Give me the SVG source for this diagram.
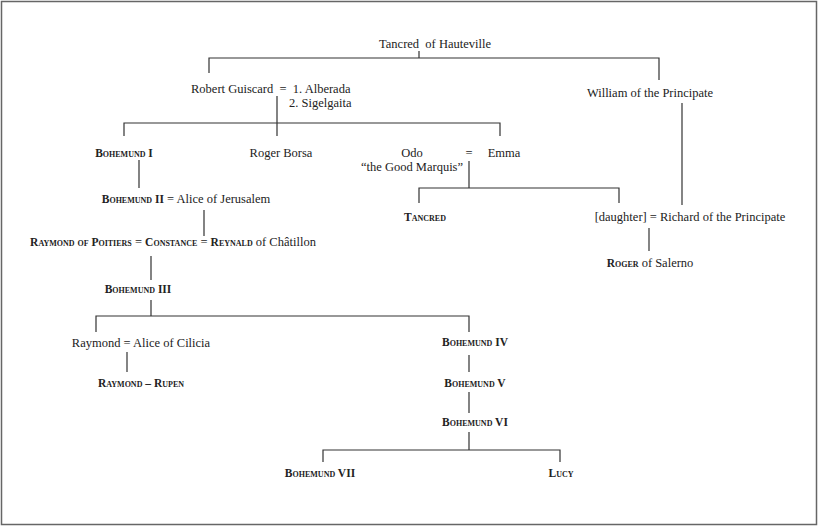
<svg xmlns="http://www.w3.org/2000/svg" width="819" height="527" viewBox="0 0 819 527">
<style>
text{font-family:"Liberation Serif","Times New Roman",serif;font-size:12.5px;fill:#222;white-space:pre}
.sc{font-variant:small-caps;font-weight:bold;font-size:11.5px}
.m{text-anchor:middle}
#connectors path{fill:none;stroke:#333;stroke-width:1.2}
</style>
<rect x="1.5" y="1.5" width="815" height="523" fill="#fff" stroke="#666" stroke-width="1.5"/>
<g id="connectors">
<path d="M419 51V58M209 73V58H659V80"/>
<path d="M277 96V136M124 136V123H500V136"/>
<path d="M682 103V205"/>
<path d="M469 161V188M419 203V188H619V203"/>
<path d="M649 228V251"/>
<path d="M139 160V188M204 210V236M151 256V280"/>
<path d="M151 300V316M96 332V316H469V332"/>
<path d="M127 352V372"/>
<path d="M469 355V372M469 392V413M469 432V450M323 462V450H560V462"/>
</g>
<g id="tancred-hauteville"><text x="435" y="48" class="m">Tancred  of Hauteville</text></g>
<g id="robert"><text x="191" y="93">Robert Guiscard  =  1. Alberada</text><text x="289" y="107">2. Sigelgaita</text></g>
<g id="william"><text x="650" y="97" class="m">William of the Principate</text></g>
<g id="bohemund1"><text x="124" y="157" class="m sc">Bohemund I</text></g>
<g id="roger-borsa"><text x="281" y="157" class="m">Roger Borsa</text></g>
<g id="odo"><text x="412" y="157" class="m">Odo</text><text x="412" y="171" class="m">“the Good Marquis”</text><text x="469" y="157" class="m">=</text><text x="504" y="157" class="m">Emma</text></g>
<g id="tancred"><text x="425" y="221" class="m sc">Tancred</text></g>
<g id="daughter"><text x="690" y="221" class="m">[daughter] = Richard of the Principate</text></g>
<g id="roger-salerno"><text x="650" y="267" class="m"><tspan class="sc">Roger</tspan> of Salerno</text></g>
<g id="bohemund2"><text x="186" y="203" class="m"><tspan class="sc">Bohemund II</tspan> = Alice of Jerusalem</text></g>
<g id="constance"><text x="173" y="246" class="m"><tspan class="sc">Raymond of Poitiers</tspan> = <tspan class="sc">Constance</tspan> = <tspan class="sc">Reynald</tspan> of Châtillon</text></g>
<g id="bohemund3"><text x="138" y="293" class="m sc">Bohemund III</text></g>
<g id="raymond"><text x="141" y="347" class="m">Raymond = Alice of Cilicia</text></g>
<g id="raymond-rupen"><text x="141" y="387" class="m sc">Raymond – Rupen</text></g>
<g id="bohemund4"><text x="475" y="346" class="m sc">Bohemund IV</text></g>
<g id="bohemund5"><text x="475" y="387" class="m sc">Bohemund V</text></g>
<g id="bohemund6"><text x="475" y="426" class="m sc">Bohemund VI</text></g>
<g id="bohemund7"><text x="320" y="477" class="m sc">Bohemund VII</text></g>
<g id="lucy"><text x="561" y="477" class="m sc">Lucy</text></g>
</svg>
